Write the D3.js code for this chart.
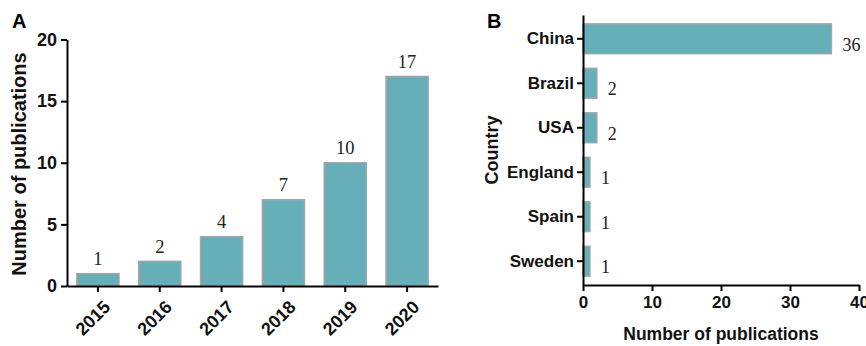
<!DOCTYPE html>
<html>
<head>
<style>
  body { margin: 0px; background: white; }
  text { font-family: "Liberation Sans", Arial, sans-serif; }
  .val { font-family: "Liberation Serif", "Times New Roman", serif; font-weight: normal; }
</style>
<script src="https://d3js.org/d3.v7.min.js"></script>
</head>
<body>
<svg></svg>
<script>
const years = ["2015", "2016", "2017", "2018", "2019", "2020"];
const yearCounts = [1, 2, 4, 7, 10, 17];
const yTicksA = [0, 5, 10, 15, 20];

const countries = ["China", "Brazil", "USA", "England", "Spain", "Sweden"];
const countryCounts = [36, 2, 2, 1, 1, 1];
const xTicksB = [0, 10, 20, 30, 40];

const width = 866, height = 346;
const barFill = "#67afb8", barStroke = "#a3a3a8";

const svg = d3.select("svg")
    .attr("width", width)
    .attr("height", height);

function styleAxis(g, size) {
  g.selectAll(".domain").attr("stroke", "#000").attr("stroke-width", 2);
  g.selectAll(".tick line").attr("stroke", "#000").attr("stroke-width", 2);
  g.selectAll(".tick text")
    .attr("fill", "#111")
    .style("font-size", size + "px")
    .style("font-weight", "bold")
    .style("font-family", "'Liberation Sans', Arial, sans-serif");
}

// ---- panel A ----
const xA = d3.scaleBand().domain(years).range([67, 438])
    .paddingInner(0.32).paddingOuter(0.16);
const yA = d3.scaleLinear().domain([0, 20]).range([286, 39.5]);

svg.append("g")
    .selectAll("rect")
    .data(yearCounts)
  .enter().append("rect")
    .attr("x", (d, i) => xA(years[i]))
    .attr("y", d => yA(d))
    .attr("width", xA.bandwidth())
    .attr("height", d => yA(0) - yA(d))
    .attr("fill", barFill)
    .attr("stroke", barStroke)
    .attr("stroke-width", 1.5);

svg.append("g")
    .selectAll("text")
    .data(yearCounts)
  .enter().append("text")
    .attr("class", "val")
    .attr("x", (d, i) => xA(years[i]) + xA.bandwidth() / 2)
    .attr("y", d => yA(d) - 8.5)
    .attr("text-anchor", "middle")
    .style("font-size", "18.5px")
    .attr("fill", "#222")
    .text(d => d);

const gyA = svg.append("g")
    .attr("transform", "translate(67,0)")
    .call(d3.axisLeft(yA).tickValues(yTicksA).tickSize(6).tickSizeOuter(0).tickPadding(4));
styleAxis(gyA, 18);

const gxA = svg.append("g")
    .attr("transform", "translate(0,286)")
    .call(d3.axisBottom(xA).tickSize(6).tickSizeOuter(0));
styleAxis(gxA, 18);
gxA.selectAll(".tick text")
    .attr("text-anchor", "end")
    .attr("dx", "0.2em")
    .attr("dy", "0.35em")
    .attr("transform", "translate(0,14) rotate(-45)");

svg.append("text")
    .attr("transform", "translate(26,164) rotate(-90)")
    .attr("text-anchor", "middle")
    .style("font-size", "20px")
    .style("font-weight", "bold")
    .attr("fill", "#111")
    .text("Number of publications");

svg.append("text")
    .attr("x", 12).attr("y", 28)
    .style("font-size", "20px")
    .style("font-weight", "bold")
    .text("A");

// ---- panel B ----
const xB = d3.scaleLinear().domain([0, 40]).range([583, 859]);
const yB = d3.scaleBand().domain(countries).range([15, 285])
    .paddingInner(0.33).paddingOuter(0.2);

svg.append("g")
    .selectAll("rect")
    .data(countryCounts)
  .enter().append("rect")
    .attr("x", xB(0))
    .attr("y", (d, i) => yB(countries[i]))
    .attr("width", d => xB(d) - xB(0))
    .attr("height", yB.bandwidth())
    .attr("fill", barFill)
    .attr("stroke", barStroke)
    .attr("stroke-width", 1.5);

svg.append("g")
    .selectAll("text")
    .data(countryCounts)
  .enter().append("text")
    .attr("class", "val")
    .attr("x", d => xB(d) + 11)
    .attr("y", (d, i) => yB(countries[i]) + yB.bandwidth() - 3)
    .style("font-size", "18px")
    .attr("fill", "#222")
    .text(d => d);

const gyB = svg.append("g")
    .attr("transform", "translate(583,0)")
    .call(d3.axisLeft(yB).tickSize(6).tickSizeOuter(0).tickPadding(3));
styleAxis(gyB, 17);

const gxB = svg.append("g")
    .attr("transform", "translate(0,285)")
    .call(d3.axisBottom(xB).tickValues(xTicksB).tickSize(6).tickSizeOuter(0).tickPadding(5));
styleAxis(gxB, 17);

svg.append("text")
    .attr("transform", "translate(498,150) rotate(-90)")
    .attr("text-anchor", "middle")
    .style("font-size", "18px")
    .style("font-weight", "bold")
    .attr("fill", "#111")
    .text("Country");

svg.append("text")
    .attr("x", 721).attr("y", 340)
    .attr("text-anchor", "middle")
    .style("font-size", "17.5px")
    .style("font-weight", "bold")
    .attr("fill", "#111")
    .text("Number of publications");

svg.append("text")
    .attr("x", 487).attr("y", 28)
    .style("font-size", "20px")
    .style("font-weight", "bold")
    .text("B");
</script>
</body>
</html>
